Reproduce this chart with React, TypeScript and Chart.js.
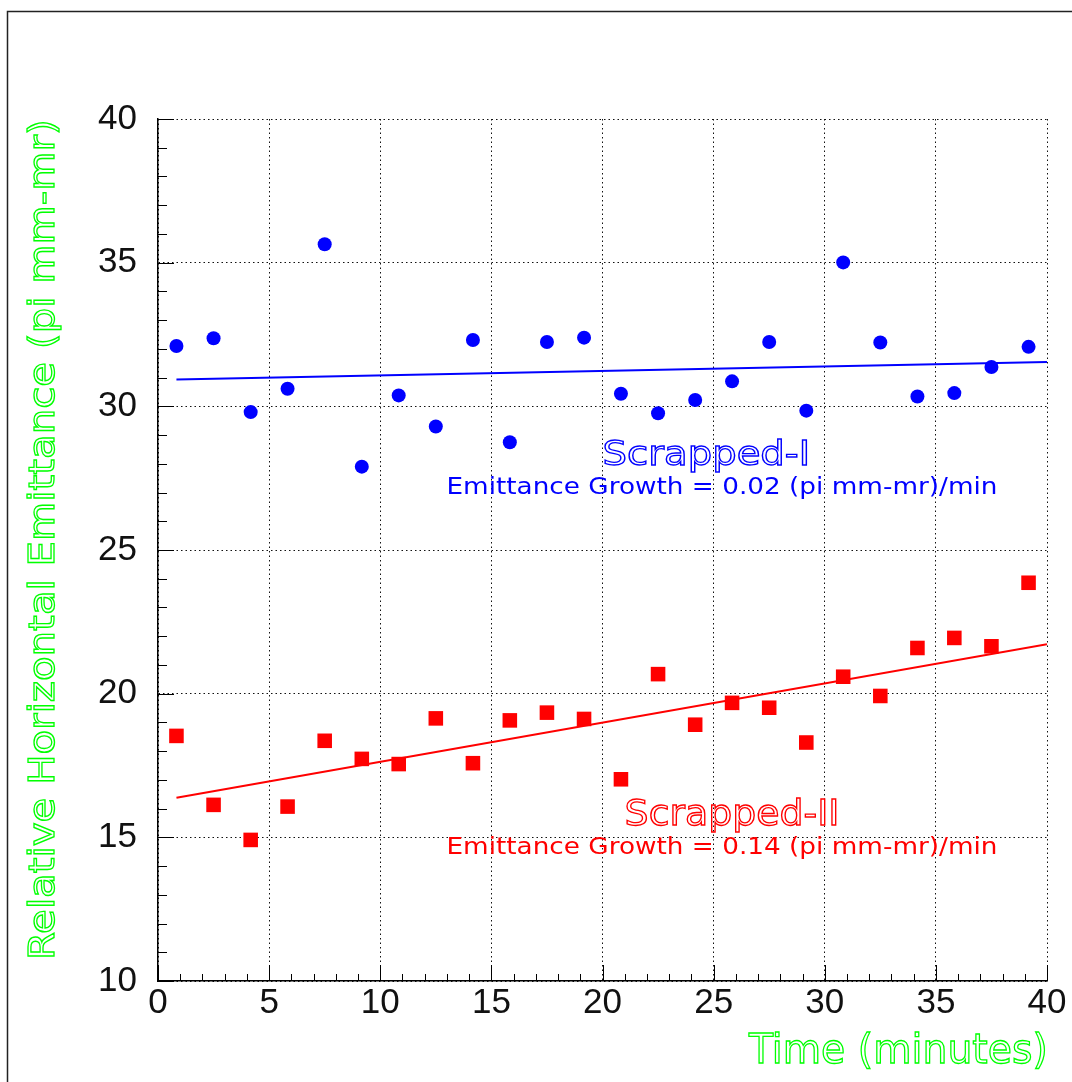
import React, { useEffect, useRef } from "react";
import { Chart, registerables } from "chart.js";

Chart.register(...registerables);

// ---- data ----
const timeMinutes = [0.83, 2.5, 4.17, 5.83, 7.5, 9.17, 10.83, 12.5, 14.17, 15.83, 17.5, 19.17, 20.83, 22.5, 24.17, 25.83, 27.5, 29.17, 30.83, 32.5, 34.17, 35.83, 37.5, 39.17];
const scrappedI = [32.1, 32.37, 29.8, 30.61, 35.64, 27.9, 30.38, 29.3, 32.31, 28.75, 32.24, 32.39, 30.44, 29.76, 30.22, 30.87, 32.24, 29.85, 35.01, 32.22, 30.34, 30.46, 31.37, 32.07];
const scrappedII = [18.53, 16.13, 14.91, 16.07, 18.36, 17.73, 17.55, 19.14, 17.58, 19.07, 19.34, 19.12, 17.02, 20.68, 18.92, 19.68, 19.51, 18.3, 20.59, 19.92, 21.59, 21.94, 21.65, 23.86];
const fitTime = [0.83, 40];
const fitI = [30.93, 31.54];
const fitII = [16.38, 21.72];

const xRange = [0, 40];
const yRange = [10, 40];
const majorStep = 5;
const minorStep = 1;

const xTitle = "Time (minutes)";
const yTitle = "Relative Horizontal Emittance (pi mm-mr)";
const labelI = "Scrapped-I";
const growthI = "Emittance Growth = 0.02 (pi mm-mr)/min";
const labelII = "Scrapped-II";
const growthII = "Emittance Growth = 0.14 (pi mm-mr)/min";

const BLUE = "#0000ff";
const RED = "#ff0000";
const GREEN = "#00ff00";
const FONT = "'Liberation Sans', Arial, sans-serif";
const TEXT_FONT = "'DejaVu Sans', 'Liberation Sans', sans-serif";

function fitText(
  ctx: CanvasRenderingContext2D,
  text: string,
  x: number,
  y: number,
  width: number,
  size: number,
  color: string,
  hollow: boolean
) {
  ctx.save();
  ctx.font = `${size}px ${TEXT_FONT}`;
  const m = ctx.measureText(text);
  const ink = m.actualBoundingBoxLeft + m.actualBoundingBoxRight;
  const s = width / ink;
  ctx.translate(x + m.actualBoundingBoxLeft * s, y);
  ctx.scale(s, 1);
  ctx.textAlign = "left";
  ctx.textBaseline = "alphabetic";
  if (hollow) {
    ctx.strokeStyle = color;
    ctx.lineWidth = 1.3;
    ctx.strokeText(text, 0, 0);
  } else {
    ctx.fillStyle = color;
    ctx.fillText(text, 0, 0);
  }
  ctx.restore();
}

const decor = {
  id: "decor",
  beforeDraw(chart: any) {
    const ctx = chart.ctx as CanvasRenderingContext2D;
    ctx.save();
    ctx.fillStyle = "#ffffff";
    ctx.fillRect(0, 0, chart.width, chart.height);
    ctx.strokeStyle = "#222";
    ctx.lineWidth = 1.5;
    ctx.strokeRect(7.5, 11.5, 3000, 3000);
    ctx.restore();
  },
  beforeDatasetsDraw(chart: any) {
    const ctx = chart.ctx as CanvasRenderingContext2D;
    const xs = chart.scales.x;
    const ys = chart.scales.y;
    const { left, bottom } = chart.chartArea;
    ctx.save();
    ctx.strokeStyle = "#000";
    ctx.lineWidth = 1;
    ctx.beginPath();
    for (let v = xs.min; v <= xs.max + 1e-9; v += minorStep) {
      const len = Math.abs(v % majorStep) < 1e-9 ? 16 : 7;
      const px = Math.round(xs.getPixelForValue(v)) + 0.5;
      ctx.moveTo(px, bottom);
      ctx.lineTo(px, bottom - len);
    }
    for (let v = ys.min; v <= ys.max + 1e-9; v += minorStep) {
      const len = Math.abs(v % majorStep) < 1e-9 ? 16 : 9;
      const py = Math.round(ys.getPixelForValue(v)) + 0.5;
      ctx.moveTo(left, py);
      ctx.lineTo(left + len, py);
    }
    ctx.stroke();
    ctx.restore();
  },
  afterDraw(chart: any) {
    const ctx = chart.ctx as CanvasRenderingContext2D;
    const xs = chart.scales.x;
    const ys = chart.scales.y;
    const X = (v: number) => xs.getPixelForValue(v);
    const Y = (v: number) => ys.getPixelForValue(v);
    // series annotations (positions in data units)
    fitText(ctx, labelI, X(20.1), Y(27.96), 202, 34, BLUE, true);
    fitText(ctx, growthI, X(13.08), Y(26.95), 547, 23, BLUE, false);
    fitText(ctx, labelII, X(21.09), Y(15.43), 210, 36, RED, true);
    fitText(ctx, growthII, X(13.08), Y(14.41), 547, 23, RED, false);
    // axis titles
    fitText(ctx, xTitle, 748, 1063, 297, 41, GREEN, true);
    ctx.save();
    ctx.translate(53.5, 956.7);
    ctx.rotate(-Math.PI / 2);
    fitText(ctx, yTitle, 0, 0, 834, 36, GREEN, true);
    ctx.restore();
  },
};

export default function App() {
  const ref = useRef<HTMLCanvasElement | null>(null);
  useEffect(() => {
    if (!ref.current) return;
    const pts = (ys: number[]) => timeMinutes.map((t, i) => ({ x: t, y: ys[i] }));
    const fit = (ys: number[]) => fitTime.map((t, i) => ({ x: t, y: ys[i] }));
    const tickFont = { family: FONT, size: 35 };
    const chart = new Chart(ref.current, {
      type: "scatter",
      data: {
        datasets: [
          {
            label: "fit I",
            data: fit(fitI),
            showLine: true,
            borderColor: BLUE,
            borderWidth: 2,
            pointRadius: 0,
          },
          {
            label: "fit II",
            data: fit(fitII),
            showLine: true,
            borderColor: RED,
            borderWidth: 2,
            pointRadius: 0,
          },
          {
            label: labelI,
            data: pts(scrappedI),
            pointStyle: "circle",
            pointRadius: 7,
            backgroundColor: BLUE,
            borderWidth: 0,
          },
          {
            label: labelII,
            data: pts(scrappedII),
            pointStyle: "rect",
            pointRadius: 10.3,
            backgroundColor: RED,
            borderWidth: 0,
          },
        ],
      },
      options: {
        animation: false,
        responsive: false,
        devicePixelRatio: 1,
        layout: { padding: { left: 0, top: 119, right: 25, bottom: 0 } },
        plugins: { legend: { display: false }, tooltip: { enabled: false } },
        scales: {
          x: {
            type: "linear",
            min: xRange[0],
            max: xRange[1],
            afterFit: (s: any) => {
              s.height = 101;
            },
            ticks: { stepSize: majorStep, padding: 1, font: tickFont, color: "#111", maxRotation: 0, autoSkip: false },
            grid: { drawTicks: false, color: "#111", lineWidth: 1 },
            border: { display: true, color: "#000", width: 1.5, dash: [1.5, 3] },
          },
          y: {
            type: "linear",
            min: yRange[0],
            max: yRange[1],
            afterFit: (s: any) => {
              s.width = 158;
            },
            ticks: { stepSize: majorStep, padding: 21, font: tickFont, color: "#111", autoSkip: false },
            grid: { drawTicks: false, color: "#111", lineWidth: 1 },
            border: { display: true, color: "#000", width: 1.5, dash: [1.5, 3] },
          },
        },
      },
      plugins: [decor],
    } as any);
    return () => chart.destroy();
  }, []);
  return (
    <div style={{ position: "absolute", left: 0, top: 0, width: 1072, height: 1082 }}>
      <canvas ref={ref} width={1072} height={1082} style={{ display: "block" }} />
    </div>
  );
}
